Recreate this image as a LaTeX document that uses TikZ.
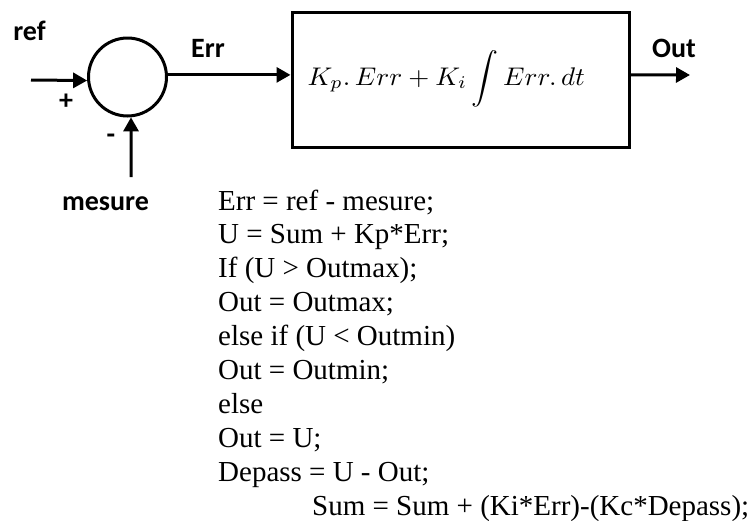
\documentclass[tikz,border=0pt]{standalone}
\usepackage{fontspec}
\setmainfont{Liberation Serif}
\newfontfamily\lab{Carlito}
\usetikzlibrary{arrows.meta}
\tikzset{
  wire/.style={line width=3pt,-{Triangle[length=14pt,width=15pt]}},
  lbl/.style={font=\lab\bfseries\fontsize{28}{32}\selectfont, inner sep=0pt, anchor=base},
  code/.style={font=\fontsize{29}{34}\selectfont, inner sep=0pt, anchor=base west},
}
\begin{document}
\begin{tikzpicture}[x=1pt,y=-1pt]
\useasboundingbox (0,0) rectangle (755,520);
\node[draw, circle, line width=3pt, minimum size=78pt, inner sep=0pt] (sum) at (127.5,77) {};
\node[draw, rectangle, line width=3pt, minimum width=337pt, minimum height=135pt, inner sep=0pt] (box) at (460.5,79.5) {};
\node[inner sep=0pt, anchor=base west, xscale=2.7, yscale=2.55] (formula) at (307,85) {$K_p.\,Err + K_i\displaystyle\int Err.\,dt$};
\coordinate (inA) at (31,80);
\coordinate (mesA) at (131,177);
\coordinate (outE) at (690,75);
\draw[wire] (inA) -- (sum.185);
\draw[wire] (mesA) -- (sum.275);
\draw[wire] (sum.3) -- (sum.3 -| box.west);
\draw[wire] (sum.3 -| box.east) -- (outE);
\node[lbl] (ref) at (29.5,40) {ref};
\node[lbl] (plus) at (66,109) {+};
\node[lbl] (minus) at (111,143) {-};
\node[lbl] (err) at (208,57) {Err};
\node[lbl] (out) at (674,57) {Out};
\node[lbl] (mes) at (105.5,210) {mesure};
\node[code] (l1) at (218,210) {Err = ref - mesure;};
\node[code] (l2) at (218,243.9) {U = Sum + Kp*Err;};
\node[code] (l3) at (218,277.8) {If (U > Outmax);};
\node[code] (l4) at (218,311.7) {Out = Outmax;};
\node[code] (l5) at (218,345.6) {else if (U < Outmin)};
\node[code] (l6) at (218,379.5) {Out = Outmin;};
\node[code] (l7) at (218,413.4) {else};
\node[code] (l8) at (218,447.3) {Out = U;};
\node[code] (l9) at (218,481.2) {Depass = U - Out;};
\node[code] (l10) at (312,515.1) {Sum = Sum + (Ki*Err)-(Kc*Depass);};
\end{tikzpicture}
\end{document}
